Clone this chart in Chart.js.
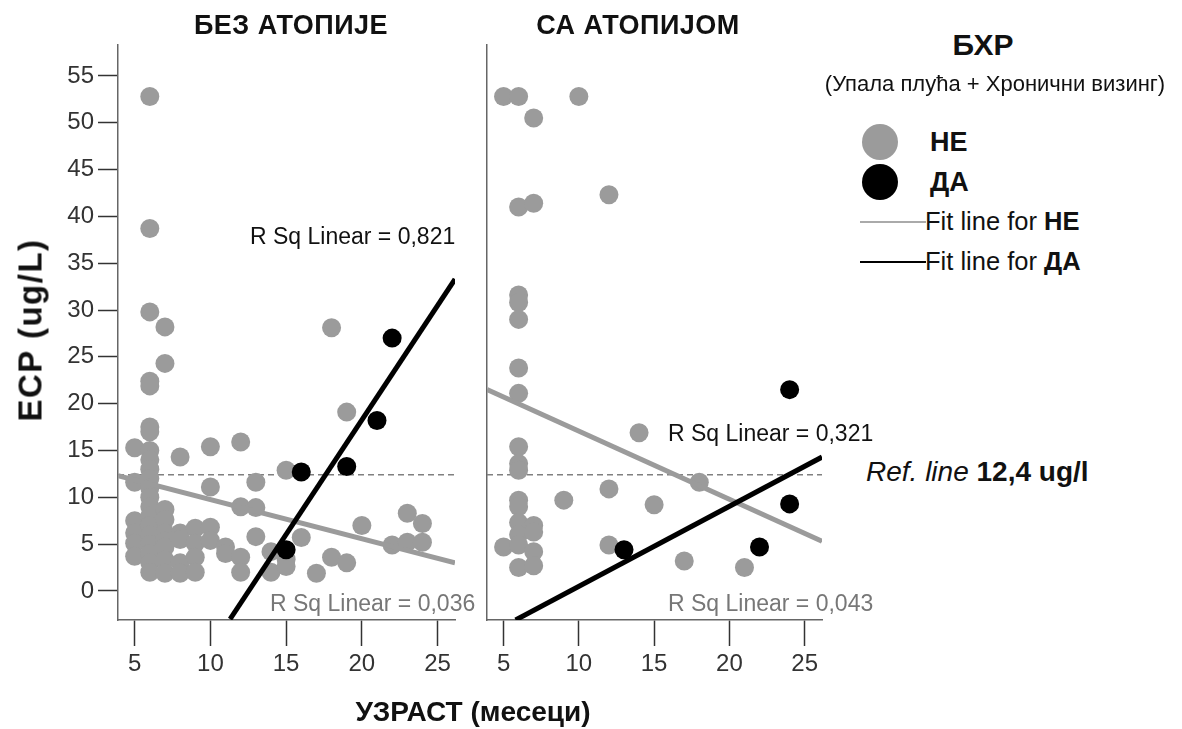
<!DOCTYPE html>
<html>
<head>
<meta charset="utf-8">
<script src="https://cdn.jsdelivr.net/npm/chart.js@4"></script>
<style>
body { margin:0; background:#fff; width:1182px; height:729px; position:relative; overflow:hidden; font-family:"Liberation Sans", Arial, sans-serif; color:#111; }
canvas { position:absolute; top:0; }
.t { position:absolute; white-space:nowrap; line-height:1; }
.c { transform:translate(-50%, -50%); }
.l { transform:translateY(-50%); }
.dot { position:absolute; width:36px; height:36px; border-radius:50%; transform:translate(-50%, -50%); }
.ln { position:absolute; height:2px; }
</style>
</head>
<body>
<canvas id="leftChart" width="470" height="729" style="left:0"></canvas>
<canvas id="rightChart" width="370" height="729" style="left:470px"></canvas>

<div class="t c" style="left:291px;top:25px;font-weight:bold;font-size:27px;letter-spacing:0.5px">БЕЗ АТОПИЈЕ</div>
<div class="t c" style="left:638px;top:25px;font-weight:bold;font-size:27px;letter-spacing:0.5px">СА АТОПИЈОМ</div>
<div class="t c" style="left:30px;top:330px;font-weight:bold;font-size:33px;letter-spacing:1.5px;transform:translate(-50%,-50%) rotate(-90deg)">ECP (ug/L)</div>
<div class="t c" style="left:473px;top:712px;font-weight:bold;font-size:28px">УЗРАСТ (месеци)</div>

<div class="t l" style="left:250px;top:236px;font-size:23px">R Sq Linear = 0,821</div>
<div class="t l" style="left:270px;top:603px;font-size:23px;color:#777">R Sq Linear = 0,036</div>
<div class="t l" style="left:668px;top:433px;font-size:23px">R Sq Linear = 0,321</div>
<div class="t l" style="left:668px;top:603px;font-size:23px;color:#777">R Sq Linear = 0,043</div>

<div class="t c" style="left:983px;top:45px;font-weight:bold;font-size:30px">БХР</div>
<div class="t c" style="left:995px;top:84px;font-size:22px">(Упала плућа + Хронични визинг)</div>
<div class="dot" style="left:880px;top:142px;background:#9b9b9b"></div>
<div class="dot" style="left:880px;top:182px;background:#000"></div>
<div class="t l" style="left:930px;top:142px;font-weight:bold;font-size:27px">НЕ</div>
<div class="t l" style="left:930px;top:182px;font-weight:bold;font-size:27px">ДА</div>
<div class="ln" style="left:860px;top:221px;width:66px;background:#aaa"></div>
<div class="ln" style="left:860px;top:261px;width:66px;background:#000"></div>
<div class="t l" style="left:925px;top:222px;font-size:25.5px">Fit line for <b>НЕ</b></div>
<div class="t l" style="left:925px;top:262px;font-size:25.5px">Fit line for <b>ДА</b></div>
<div class="t l" style="left:866px;top:472px;font-size:28px"><i>Ref. line</i> <b>12,4 ug/l</b></div>

<script>
// axis ticks
const xTicks = [5, 10, 15, 20, 25];
const yTicks = [0, 5, 10, 15, 20, 25, 30, 35, 40, 45, 50, 55];
const refValue = 12.4;

// БЕЗ АТОПИЈЕ, БХР = НЕ
const leftNeX = [5, 5, 5, 5, 5, 5,
  6, 6, 6, 6, 6, 6, 6, 6, 6, 6, 6, 6, 6, 6, 6, 6, 6, 6, 6, 6, 6,
  7, 7, 7, 7, 7, 7, 7, 7, 7,
  8, 8, 8, 8, 8,
  9, 9, 9, 9,
  10, 10, 10, 10,
  11, 11,
  12, 12, 12, 12,
  13, 13, 13,
  14, 14,
  15, 15, 15,
  16, 17, 18, 18, 19, 19, 20, 22, 23, 23, 24, 24];
const leftNeY = [15.3, 11.6, 7.5, 6.2, 5.1, 3.7,
  52.8, 38.7, 29.8, 22.4, 21.9, 17.5, 17.0, 15.0, 14.0, 13.0, 12.0, 11.0, 10.0, 9.0, 8.0, 7.0, 6.0, 5.0, 4.0, 3.0, 2.0,
  28.2, 24.3, 8.7, 7.6, 6.2, 5.3, 4.7, 3.3, 1.9,
  14.3, 6.2, 5.5, 3.0, 1.9,
  6.7, 5.1, 3.6, 2.0,
  15.4, 11.1, 6.8, 5.4,
  4.7, 4.0,
  15.9, 9.0, 3.6, 2.0,
  11.6, 8.9, 5.8,
  4.2, 2.0,
  12.9, 3.4, 2.6,
  5.7, 1.9, 28.1, 3.6, 19.1, 3.0, 7.0, 4.9, 8.3, 5.2, 7.2, 5.2];
// БЕЗ АТОПИЈЕ, БХР = ДА
const leftDaX = [15, 16, 19, 21, 22];
const leftDaY = [4.4, 12.7, 13.3, 18.2, 27.0];

// СА АТОПИЈОМ, БХР = НЕ
const rightNeX = [5, 5,
  6, 6, 6, 6, 6, 6, 6, 6, 6, 6, 6, 6, 6, 6, 6, 6,
  7, 7, 7, 7, 7, 7,
  9, 10, 12, 12, 12, 14, 15, 17, 18, 21];
const rightNeY = [52.8, 4.7,
  52.8, 41.0, 31.6, 30.8, 29.0, 23.8, 21.1, 15.4, 13.6, 12.9, 9.7, 9.0, 7.3, 6.0, 4.9, 2.5,
  50.5, 41.4, 7.0, 6.3, 4.2, 2.7,
  9.7, 52.8, 42.3, 10.9, 4.9, 16.9, 9.2, 3.2, 11.6, 2.5];
// СА АТОПИЈОМ, БХР = ДА
const rightDaX = [13, 22, 24, 24];
const rightDaY = [4.4, 4.7, 9.3, 21.5];

// fit line ends (x, y)
const leftNeFit = [[3.9, 12.3], [26.15, 3.0]];
const leftDaFit = [[11.3, -3.0], [26.15, 33.3]];
const rightNeFit = [[3.9, 21.5], [26.15, 5.3]];
const rightDaFit = [[5.8, -3.1], [26.15, 14.3]];

const xMin = 3.9, xMax = 26.15, yMin = -3.1, yMax = 58.3;
const grayDot = '#9b9b9b';
const tickFont = { family: "'Liberation Sans',sans-serif", size: 24 };

function pts(xs, ys) {
    return xs.map((x, i) => ({ x: x, y: ys[i] }));
}
function linePts(pairs) {
    return pairs.map(p => ({ x: p[0], y: p[1] }));
}

function makePanel(id, neX, neY, daX, daY, neFit, daFit, showY, yWidth, padRight) {
    const ctx = document.getElementById(id).getContext('2d');
    return new Chart(ctx, {
        type: 'scatter',
        data: {
            datasets: [
                {
                    label: 'ref',
                    type: 'line',
                    data: [{ x: xMin, y: refValue }, { x: xMax, y: refValue }],
                    borderColor: '#808080',
                    borderWidth: 1.5,
                    borderDash: [6, 4],
                    pointRadius: 0,
                    order: 5
                },
                {
                    label: 'НЕ',
                    data: pts(neX, neY),
                    backgroundColor: grayDot,
                    borderWidth: 0,
                    pointRadius: 9.5,
                    order: 4
                },
                {
                    label: 'ДА',
                    data: pts(daX, daY),
                    backgroundColor: '#000',
                    borderWidth: 0,
                    pointRadius: 9.5,
                    order: 3
                },
                {
                    label: 'Fit НЕ',
                    type: 'line',
                    data: linePts(neFit),
                    borderColor: '#9b9b9b',
                    borderWidth: 5,
                    pointRadius: 0,
                    order: 2
                },
                {
                    label: 'Fit ДА',
                    type: 'line',
                    data: linePts(daFit),
                    borderColor: '#000',
                    borderWidth: 5,
                    pointRadius: 0,
                    order: 1
                }
            ]
        },
        options: {
            responsive: false,
            animation: false,
            layout: { padding: { top: 45, right: padRight, left: 0, bottom: 0 } },
            plugins: { legend: { display: false }, tooltip: { enabled: false } },
            scales: {
                x: {
                    type: 'linear',
                    min: xMin,
                    max: xMax,
                    afterBuildTicks: s => { s.ticks = xTicks.map(v => ({ value: v })); },
                    afterFit: s => { s.height = 109; },
                    grid: { drawOnChartArea: false, drawTicks: true, tickLength: 26, tickColor: '#333', tickWidth: 1.5 },
                    border: { display: true, color: '#666', width: 1.5 },
                    ticks: { padding: 4, color: '#333', font: tickFont }
                },
                y: {
                    type: 'linear',
                    min: yMin,
                    max: yMax,
                    afterBuildTicks: s => { s.ticks = showY ? yTicks.map(v => ({ value: v })) : []; },
                    afterFit: s => { s.width = yWidth; },
                    grid: { drawOnChartArea: false, drawTicks: showY, tickLength: 20, tickColor: '#333', tickWidth: 1.5 },
                    border: { display: true, color: '#666', width: 1.5 },
                    ticks: { display: showY, padding: 4, color: '#333', font: tickFont }
                }
            }
        }
    });
}

makePanel('leftChart', leftNeX, leftNeY, leftDaX, leftDaY, leftNeFit, leftDaFit, true, 118, 15);
makePanel('rightChart', rightNeX, rightNeY, rightDaX, rightDaY, rightNeFit, rightDaFit, false, 17, 18);
</script>
</body>
</html>
